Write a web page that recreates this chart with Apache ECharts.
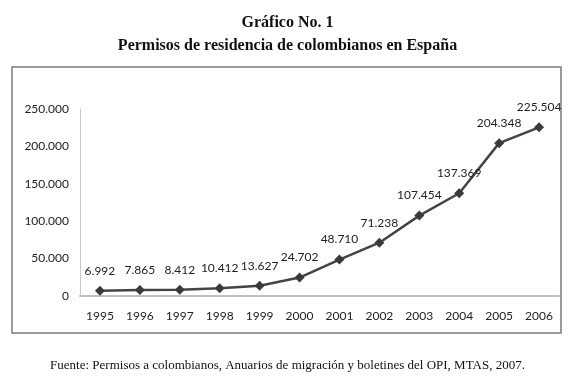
<!DOCTYPE html>
<html>
<head>
<meta charset="utf-8">
<script src="https://cdn.jsdelivr.net/npm/echarts@6/dist/echarts.min.js"></script>
<style>
html, body { margin: 0; padding: 0; background: #fff; }
#chart { width: 575px; height: 378px; }
</style>
</head>
<body>
<div id="chart"></div>
<script>
// datos: permisos de residencia de colombianos en España
const years = ['1995', '1996', '1997', '1998', '1999', '2000', '2001', '2002', '2003', '2004', '2005', '2006']
const permisos = [6992, 7865, 8412, 10412, 13627, 24702, 48710, 71238, 107454, 137369, 204348, 225504]
const yTicks = [0, 50000, 100000, 150000, 200000, 250000]

// 250000 -> "250.000"
function fmt(v) {
    return String(v).replace(/\B(?=(\d{3})+(?!\d))/g, '.')
}

const chart = echarts.init(document.getElementById('chart'), null, { renderer: 'canvas' })
const labelFont = 'Lato, "Open Sans", sans-serif'
const serif = '"Liberation Serif", "DejaVu Serif", serif'

const option = {
    animation: false,
    title: [
        { text: 'Gráfico No. 1', left: 'center', top: 10,
          textStyle: { fontFamily: serif, fontSize: 16, fontWeight: 'bold', color: '#111' } },
        { text: 'Permisos de residencia de colombianos en España', left: 'center', top: 33,
          textStyle: { fontFamily: serif, fontSize: 16, fontWeight: 'bold', color: '#111' } },
        { text: 'Fuente: Permisos a colombianos, Anuarios de migración y boletines del OPI, MTAS, 2007.',
          left: 'center', top: 354,
          textStyle: { fontFamily: serif, fontSize: 13, fontWeight: 'normal', color: '#111' } }
    ],
    graphic: [{
        type: 'rect',
        shape: { x: 12, y: 67, width: 549, height: 266 },
        style: { fill: 'none', stroke: '#7a7a7a', lineWidth: 1.5 },
        z: 0
    }],
    grid: { left: 80, right: 16, top: 109, bottom: 82, containLabel: false },
    xAxis: {
        type: 'category',
        data: years,
        boundaryGap: true,
        axisTick: { show: false },
        axisLine: { lineStyle: { color: '#c0c0c0', width: 2 } },
        axisLabel: { color: '#222', fontFamily: labelFont, fontSize: 12, margin: 14 }
    },
    yAxis: {
        type: 'value',
        min: yTicks[0],
        max: yTicks[yTicks.length - 1],
        interval: yTicks[1] - yTicks[0],
        axisTick: { show: false },
        splitLine: { show: false },
        axisLine: { show: true, lineStyle: { color: '#c8c8c8', width: 1 } },
        axisLabel: { color: '#222', fontFamily: labelFont, fontSize: 12, margin: 11, formatter: fmt }
    },
    series: [{
        type: 'line',
        data: permisos,
        symbol: 'diamond',
        symbolSize: 10,
        lineStyle: { color: '#444', width: 2.5 },
        itemStyle: { color: '#3a3a3a' },
        label: {
            show: true,
            position: 'top',
            distance: 9,
            color: '#222',
            fontFamily: labelFont,
            fontSize: 12,
            formatter: p => fmt(p.value)
        }
    }]
}
chart.setOption(option)
</script>
</body>
</html>
